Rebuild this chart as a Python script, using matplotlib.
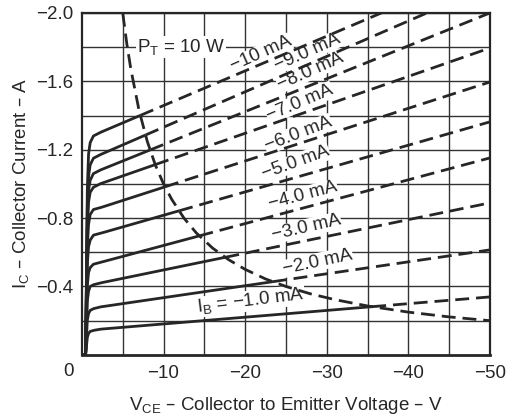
import matplotlib
matplotlib.use("Agg")
import matplotlib.pyplot as plt
import numpy as np

plt.rcParams.update(
    {
        "font.family": ["Liberation Sans", "DejaVu Sans"],
        "mathtext.default": "regular",
        "axes.unicode_minus": True,
    }
)

# Collector curves (V, A); one list per base current
ib_labels = ["−10 mA", "−9.0 mA", "−8.0 mA", "−7.0 mA", "−6.0 mA",
             "−5.0 mA", "−4.0 mA", "−3.0 mA", "−2.0 mA", "I$_B$ = −1.0 mA"]
curve_vce = [-0.45, -0.65, -0.8, -1.0, -1.4, -2.2, -50.0]
curve_ic = [
    [0.0, -0.95, -1.17, -1.24, -1.28, -1.30, -2.27],
    [0.0, -0.85, -1.04, -1.11, -1.15, -1.17, -2.16],
    [0.0, -0.78, -0.96, -1.02, -1.06, -1.08, -2.00],
    [0.0, -0.72, -0.89, -0.95, -0.98, -1.00, -1.795],
    [0.0, -0.62, -0.76, -0.82, -0.85, -0.86, -1.596],
    [0.0, -0.52, -0.63, -0.67, -0.70, -0.71, -1.363],
    [0.0, -0.40, -0.48, -0.51, -0.53, -0.54, -1.152],
    [0.0, -0.31, -0.37, -0.40, -0.41, -0.42, -0.889],
    [0.0, -0.20, -0.24, -0.26, -0.27, -0.28, -0.614],
    [0.0, -0.10, -0.125, -0.137, -0.143, -0.15, -0.339],
]

# PT = 10 W dissipation curve
pt_vce = [-5, -5.5, -6, -7, -8, -9, -10, -11, -12.5, -14, -16, -18, -20,
          -22.5, -25, -28, -31, -35, -40, -45, -50]
pt_ic = [-2.0, -1.82, -1.67, -1.43, -1.25, -1.11, -1.0, -0.91, -0.8, -0.714,
         -0.625, -0.556, -0.5, -0.444, -0.4, -0.357, -0.323, -0.286, -0.25,
         -0.222, -0.2]

# label positions (V, A) and angles
label_pos = [(-21.9, -1.760), (-27.6, -1.770), (-28.0, -1.660), (-26.7, -1.475),
             (-26.5, -1.292), (-26.2, -1.123), (-27.1, -0.930), (-27.5, -0.743),
             (-28.9, -0.544), (-20.7, -0.316)]
label_rot = [24, 24, 24, 23, 21, 20, 15, 13, 12, 7]

ink = "#262626"

fig = plt.figure(figsize=(5.12, 4.17), dpi=100)
ax = fig.add_axes([0.160, 0.149, 0.797, 0.820])

ax.set_xlim(0, -50)
ax.set_ylim(0, -2.0)

ax.set_xticks([-10, -20, -30, -40, -50])
ax.set_xticklabels(["−10", "−20", "−30", "−40", "−50"])
ax.set_xticks(np.arange(-5, -50, -10), minor=True)
ax.set_yticks([-0.4, -0.8, -1.2, -1.6, -2.0])
ax.set_yticklabels(["−0.4", "−0.8", "−1.2", "−1.6", "−2.0"])
ax.set_yticks([-0.2, -0.6, -1.0, -1.4, -1.8], minor=True)
ax.tick_params(which="both", length=0, labelsize=13.5, colors=ink)
ax.tick_params(axis="x", pad=7)
ax.tick_params(axis="y", pad=6)
ax.grid(which="both", color="#333333", lw=1.0, zorder=0.5)
for side in ["left", "bottom", "top", "right"]:
    ax.spines[side].set_color(ink)
    ax.spines[side].set_linewidth(1.6)
    ax.spines[side].set_zorder(4)
ax.spines["bottom"].set_linewidth(2.0)

ax.annotate("0", xy=(0, 0), xycoords="axes fraction", xytext=(-10, -12),
            textcoords="offset points", ha="center", va="center",
            fontsize=13.5, color=ink)

# split each curve at the PT line: solid inside, dashed outside
v_dense = np.linspace(0, 50, 4000)
hyp = np.interp(v_dense, -np.array(pt_vce), -np.array(pt_ic), left=np.inf)
for ic in curve_ic:
    i_dense = np.interp(v_dense, -np.array(curve_vce), -np.array(ic))
    inside = i_dense <= hyp
    k = np.argmin(inside) if not inside.all() else len(v_dense)
    ax.plot(-v_dense[:k + 1], -i_dense[:k + 1], color=ink, lw=2.0,
            solid_capstyle="butt", zorder=3)
    if k < len(v_dense):
        ax.plot(-v_dense[k:], -i_dense[k:], color=ink, lw=2.0,
                dashes=(5, 2.5), zorder=3)

ax.plot(pt_vce, pt_ic, color=ink, lw=2.0, dashes=(5, 2.5), zorder=3)

for txt, (vx, iy), rot in zip(ib_labels, label_pos, label_rot):
    ax.text(vx, iy, txt, rotation=rot, rotation_mode="anchor",
            ha="center", va="center", fontsize=13.5, color=ink, zorder=2,
            bbox=dict(facecolor="white", edgecolor="none", pad=0.3))

ax.text(-12.1, -1.80, "P$_T$ = 10 W", ha="center", va="center",
        fontsize=13.5, color=ink, zorder=2,
        bbox=dict(facecolor="white", edgecolor="none", pad=0.5))

ax.set_xlabel("V$_{CE}$ – Collector to Emitter Voltage – V", fontsize=13.5,
              color=ink, labelpad=10)
ax.set_ylabel("I$_C$ – Collector Current – A", fontsize=13.5, color=ink,
              labelpad=4)

fig.savefig("out.png", dpi=100, facecolor="white")
